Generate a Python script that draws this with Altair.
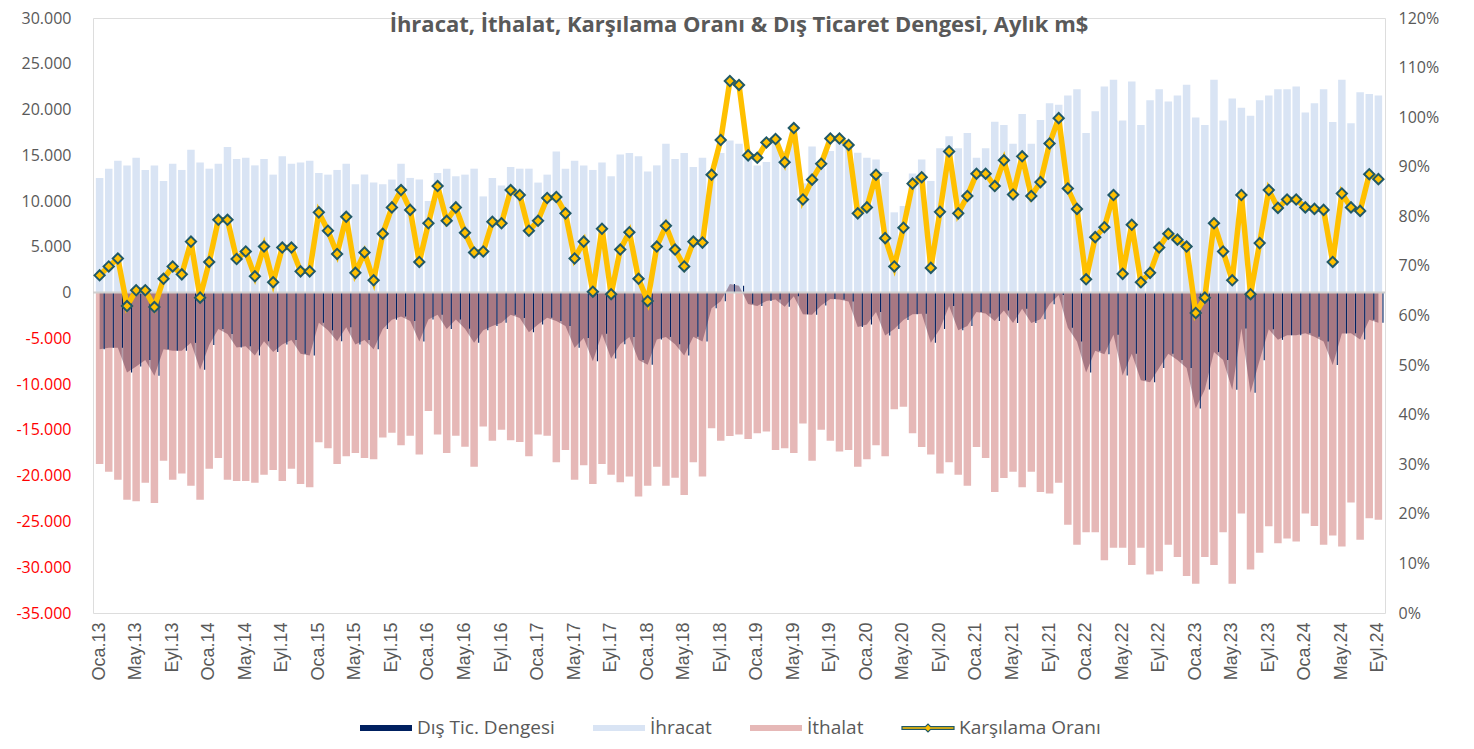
import altair as alt
import pandas as pd

# ---- categories ----
months = ["Oca", "Şub", "Mar", "Nis", "May", "Haz", "Tem", "Ağu", "Eyl", "Eki", "Kas", "Ara"]
years = ["13", "14", "15", "16", "17", "18", "19", "20", "21", "22", "23", "24"]
labels = [f"{m}.{y}" for y in years for m in months][:141]
tick_labels = labels[::4]

series_names = ["Dış Tic. Dengesi", "İhracat", "İthalat", "Karşılama Oranı"]

# ---- values (m$) ----
ihracat = [
    12530, 13540, 14410, 13900, 14730, 13400, 13900, 12200, 14080, 13400, 15600, 14220,
    13540, 14080, 15920, 14590, 14730, 13900, 14590, 12890, 14910, 14080, 14220, 14410,
    13070, 12890, 13400, 14080, 11840, 12890, 12020, 11840, 12350, 14080, 12530, 12350,
    10000, 13070, 13540, 12710, 12890, 13540, 10510, 12530, 11700, 13720, 13540, 13540,
    12020, 12890, 15420, 13540, 14410, 13900, 13400, 14220, 12710, 15100, 15240, 14910,
    13220, 13900, 16250, 14590, 15240, 13720, 14730, 13100, 15240, 16610, 16250, 14770,
    13900, 14260, 16430, 15460, 17120, 11930, 15960, 13580, 15480, 16620, 16230, 15270,
    14730, 14550, 13180, 8770, 9460, 13000, 14550, 12200, 15780, 17080, 15780, 17440,
    14730, 15780, 18670, 18310, 16250, 19500, 16250, 18850, 20690, 20510, 21520, 22210,
    17440, 19820, 22530, 23260, 18810, 23070, 18310, 21020, 22210, 20870, 21520, 22710,
    19140, 18310, 23260, 18810, 21200, 20190, 19320, 21020, 21520, 22210, 22210, 22530,
    19680, 20690, 22210, 18630, 23260, 18490, 21880, 21700, 21520,
]
ithalat = [
    -18710, -19570, -20440, -22640, -22790, -20760, -22970, -18380, -20440, -19750, -21090, -22640,
    -19250, -18060, -20440, -20580, -20580, -20760, -19900, -19390, -20580, -19250, -20910, -21270,
    -16360, -17010, -18710, -17870, -17510, -18060, -18200, -15820, -15310, -16680, -15640, -17690,
    -12930, -15490, -17510, -15640, -16830, -19030, -14620, -16180, -14990, -16140, -16320, -17870,
    -15490, -15640, -18530, -17190, -20440, -18850, -20910, -18710, -19900, -20730, -20080, -22280,
    -21090, -19030, -21090, -20220, -22100, -18530, -20080, -14810, -16180, -15670, -15490, -16000,
    -15350, -15170, -17190, -17010, -17510, -14300, -18380, -14990, -16180, -17370, -17190, -19030,
    -18200, -16680, -17870, -12750, -12460, -15350, -16860, -17690, -19750, -18530, -19900, -21090,
    -16860, -18060, -21770, -20260, -19570, -21270, -19570, -21770, -21950, -20760, -25350, -27550,
    -26180, -26180, -29250, -27870, -27870, -29760, -27870, -30800, -30440, -27550, -28890, -30950,
    -31810, -28890, -29760, -26180, -31810, -24120, -30260, -28410, -25530, -27370, -26870, -27190,
    -24120, -25500, -27550, -26540, -27730, -22930, -27010, -24660, -24810,
]
# coverage ratio, %
oran = [
    68.1, 69.9, 71.5, 61.9, 65.1, 65.1, 61.7, 67.4, 69.9, 68.3, 74.9, 63.6,
    70.8, 79.3, 79.3, 71.4, 72.9, 67.9, 73.9, 66.7, 73.7, 73.7, 68.9, 68.9,
    80.8, 77.1, 72.4, 79.9, 68.6, 72.7, 67.1, 76.5, 81.8, 85.3, 81.3, 70.8,
    78.6, 86.1, 79.1, 81.8, 76.7, 72.7, 72.9, 78.9, 78.6, 85.3, 84.3, 77.1,
    79.1, 83.7, 83.9, 80.6, 71.5, 74.9, 64.8, 77.5, 64.3, 73.3, 76.8, 67.4,
    62.9, 73.9, 78.1, 73.3, 69.9, 74.9, 74.7, 88.4, 95.4, 107.3, 106.5, 92.3,
    91.8, 94.9, 95.6, 90.9, 97.8, 83.4, 87.4, 90.6, 95.7, 95.7, 94.4, 80.6,
    81.8, 88.4, 75.6, 69.9, 77.7, 86.6, 87.9, 69.6, 80.9, 93.1, 80.6, 84.1,
    88.6, 88.6, 86.1, 91.3, 84.4, 92.1, 84.1, 86.9, 94.7, 99.8, 85.6, 81.5,
    67.3, 75.8, 77.8, 84.3, 68.4, 78.3, 66.7, 68.6, 73.7, 76.5, 75.3, 73.9,
    60.5, 63.6, 78.6, 72.9, 67.1, 84.3, 64.3, 74.6, 85.3, 81.7, 83.4, 83.4,
    81.8, 81.5, 81.3, 70.8, 84.6, 81.8, 81.1, 88.5, 87.5,
]

df = pd.DataFrame({"ay": labels, "ihracat": ihracat, "ithalat": ithalat,
                   "oran": [v / 100 for v in oran]})
df["denge"] = df["ihracat"] + df["ithalat"]

long = pd.concat([
    pd.DataFrame({"ay": labels, "deger": ihracat, "seri": "İhracat"}),
    pd.DataFrame({"ay": labels, "deger": ithalat, "seri": "İthalat"}),
])

FONT = "Open Sans"
GRAY = "#595959"
NAVY = "#002060"
LBLUE = "#D9E4F4"
PINK = "#E6B8B7"
YELLOW = "#FFC000"
TEAL = "#215967"

xenc = alt.X("ay:N", sort=labels, title=None,
             scale=alt.Scale(paddingInner=0.18, paddingOuter=0.313),
             axis=alt.Axis(values=tick_labels, labelAngle=-90, ticks=False, domain=False,
                           grid=False, labelPadding=9, labelFont="Liberation Sans",
                           labelFontSize=18, labelColor=GRAY))

yscale = alt.Scale(domain=[-35000, 30000], nice=False, zero=False)
yaxis = alt.Axis(values=list(range(-35000, 30001, 5000)), ticks=False, domain=False, grid=False,
                 labelPadding=22, labelFont=FONT, labelFontSize=16,
                 labelExpr="replace(replace(format(datum.value, ','), ',', '.'), '\u2212', '-')",
                 labelColor={"condition": {"test": "datum.value < 0", "value": "#FF0000"},
                             "value": GRAY})

rect_path = "M-1,-0.115H1V0.115H-1Z"
line_path = "M-1,-0.05H-0.1L0,-0.15L0.1,-0.05H1V0.05H0.1L0,0.15L-0.1,0.05H-1Z"

legend = alt.Legend(
    orient="none", legendX=266, legendY=683, direction="horizontal", columns=4, title=None,
    symbolSize=2704, symbolStrokeWidth=1.2, symbolOpacity=1, labelFont=FONT,
    labelFontSize=19, labelColor=GRAY, labelOffset=4, columnPadding=35, padding=0,
)

bars = alt.Chart(long).mark_bar().encode(
    x=xenc,
    y=alt.Y("deger:Q", scale=yscale, axis=yaxis, title=None, stack=None),
    color=alt.Color("seri:N", scale=alt.Scale(domain=["İhracat", "İthalat"],
                                              range=[LBLUE, PINK]), legend=None),
)

area = alt.Chart(df).mark_area(color="#52203c", opacity=0.42).encode(
    x=xenc, y=alt.Y("denge:Q", scale=yscale, title=None))

navy = alt.Chart(df).mark_bar(color=NAVY, width=1.1, xOffset=4.57).encode(
    x=xenc, y=alt.Y("denge:Q", scale=yscale, title=None))

zero = alt.Chart(pd.DataFrame({"v": [0]})).mark_rule(color="#D0D0D0", strokeWidth=2).encode(
    y=alt.Y("v:Q", scale=yscale, title=None))

# legend carrier (invisible points)
leg_df = pd.DataFrame({"seri": series_names, "ay": labels[0], "v": 0})
legend_layer = alt.Chart(leg_df).mark_point(filled=True, opacity=0).encode(
    x=xenc, y=alt.Y("v:Q", scale=yscale, title=None),
    fill=alt.Fill("seri:N", scale=alt.Scale(domain=series_names,
                                            range=[NAVY, LBLUE, PINK, YELLOW]), legend=legend),
    shape=alt.Shape("seri:N", scale=alt.Scale(domain=series_names,
                                              range=[rect_path, rect_path, rect_path, line_path]),
                    legend=legend),
    stroke=alt.Stroke("seri:N", scale=alt.Scale(domain=series_names,
                                                range=["transparent", "transparent",
                                                       "transparent", TEAL]), legend=legend),
)

left = alt.layer(bars, area, navy, zero, legend_layer)

y2scale = alt.Scale(domain=[0, 1.2], nice=False, zero=False)
y2axis = alt.Axis(orient="right", format=".0%", values=[i / 10 for i in range(13)],
                  ticks=False, domain=False, grid=False, labelPadding=13,
                  labelFont=FONT, labelFontSize=16, labelColor=GRAY)

line = alt.Chart(df).mark_line(color=YELLOW, strokeWidth=5.5).encode(
    x=xenc, y=alt.Y("oran:Q", scale=y2scale, axis=y2axis, title=None))
pts = alt.Chart(df).mark_point(shape="diamond", filled=True, fill=YELLOW, stroke=TEAL,
                               strokeWidth=2, size=105, opacity=1).encode(
    x=xenc, y=alt.Y("oran:Q", scale=y2scale, title=None))
right = alt.layer(line, pts)

chart = alt.layer(left, right).resolve_scale(y="independent").properties(
    width=1292, height=595,
    title=alt.Title("İhracat, İthalat, Karşılama Oranı & Dış Ticaret Dengesi, Aylık m$",
                    font=FONT, fontSize=22, fontWeight="bold", color=GRAY,
                    anchor="middle", offset=-37, frame="group", baseline="middle"),
    autosize=alt.AutoSizeParams(type="none"),
    padding={"left": 85, "top": 10, "right": 81, "bottom": 128},
).configure_view(stroke=None).configure(background="white")

chart.save("out.html", embed_options={"renderer": "svg", "actions": False})
